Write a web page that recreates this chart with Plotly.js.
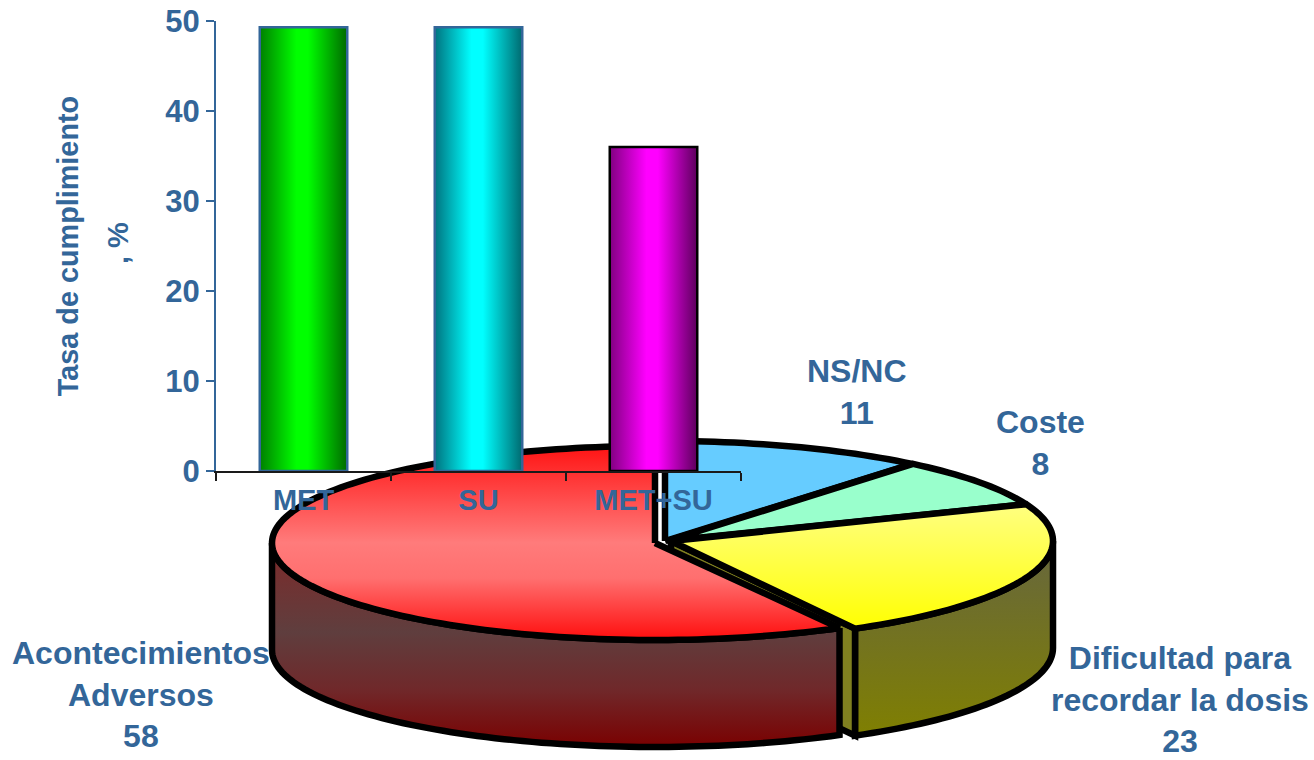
<!DOCTYPE html>
<html lang="es">
<head>
<meta charset="utf-8">
<title>Cumplimiento terapéutico</title>
<script src="https://cdn.plot.ly/plotly-3.0.1.min.js"></script>
<style>
  html, body { margin: 0; padding: 0; background: #ffffff; }
  #chart { width: 1314px; height: 760px; }
</style>
</head>
<body>
<div id="chart"></div>
<script>
// Compliance rate per treatment
const treatments = ['MET', 'SU', 'MET+SU'];
const complianceRates = [49.3, 49.3, 36];
const barOutlines = ['#336699', '#336699', '#000000'];
const barShades = [
  ['#007f00', '#00ff00', '#00ff00', '#006a00'],
  ['#00737f', '#00ffff', '#00ffff', '#006a70'],
  ['#800080', '#ff00ff', '#ff00ff', '#5c005c']
];

// Reasons for non-compliance, clockwise from twelve o'clock
const reasons = ['NS/NC', 'Coste', 'Dificultad para<br>recordar la dosis', 'Acontecimientos<br>Adversos'];
const reasonCounts = [11, 8, 23, 58];

const BLUE = '#336699';
const FONT = '"Liberation Sans", Arial, sans-serif';

// Pie projection: each exploded slice has its own disc centre on a pixel-scaled hidden axis pair
const blueDisc = { cx: 665, cy: 541, rx: 388, ry: 100 };
const greenDisc = { cx: 667, cy: 541, rx: 386, ry: 100 };
const yellowDisc = { cx: 671, cy: 541, rx: 382, ry: 100 };
const redDisc = { cx: 655, cy: 543, rx: 383, ry: 97 };
const DEPTH = 107;
const EDGE = { color: '#000000', width: 6.5 };

const total = reasonCounts.reduce((a, b) => a + b, 0);
const cuts = [0];
reasonCounts.forEach(v => cuts.push(cuts[cuts.length - 1] + v / total * 360));

function rimPoint(d, deg, drop) {
  const r = deg * Math.PI / 180;
  return [d.cx + d.rx * Math.sin(r), d.cy - d.ry * Math.cos(r) + (drop || 0)];
}
function arc(d, from, to, drop) {
  const pts = [];
  const n = Math.max(2, Math.ceil(Math.abs(to - from) / 1.5));
  for (let i = 0; i <= n; i++) pts.push(rimPoint(d, from + (to - from) * i / n, drop));
  return pts;
}
function polygonTrace(pts, fill) {
  const closed = pts.concat([pts[0]]);
  const t = {
    type: 'scatter', mode: 'lines', xaxis: 'x', yaxis: 'y', hoverinfo: 'skip',
    x: closed.map(p => p[0]), y: closed.map(p => p[1]),
    line: Object.assign({ simplify: false }, EDGE), fill: 'toself'
  };
  if (typeof fill === 'string') t.fillcolor = fill; else t.fillgradient = fill;
  return t;
}
const topFace = (d, a, b, fill) => polygonTrace([[d.cx, d.cy]].concat(arc(d, a, b)), fill);
const wall = (d, a, b, fill) => polygonTrace(arc(d, a, b).concat(arc(d, b, a, DEPTH)), fill);
const vertical = (start, stop, colorscale) => ({ type: 'vertical', start, stop, colorscale });

const yellowWall = vertical(540, 740, [[0, '#66663f'], [1, '#808000']]);
const redWall = vertical(555, 748, [[0, '#7a2c2c'], [0.4, '#5f3e3e'], [0.7, '#70282a'], [1, '#7a0000']]);
const redTop = vertical(443, 642, [[0, '#ff1010'], [0.5, '#ff7b7b'], [0.68, '#ff6f6f'], [1, '#ff0a0a']]);
const yellowTop = vertical(505, 630, [[0, '#ffff80'], [1, '#ffff00']]);

const endYellow = rimPoint(yellowDisc, cuts[3]);
const pieTraces = [
  wall(yellowDisc, 90, cuts[3], yellowWall),
  polygonTrace([endYellow, [endYellow[0], endYellow[1] + DEPTH],
    [yellowDisc.cx, yellowDisc.cy + DEPTH], [yellowDisc.cx, yellowDisc.cy]], '#808020'),
  topFace(blueDisc, cuts[0], cuts[1], '#66ccff'),
  topFace(greenDisc, cuts[1], cuts[2], '#99ffcc'),
  topFace(yellowDisc, cuts[2], cuts[3], yellowTop),
  wall(redDisc, cuts[3], 270, redWall),
  topFace(redDisc, cuts[3], cuts[4], redTop)
];

const barTrace = {
  type: 'bar', xaxis: 'x2', yaxis: 'y2', hoverinfo: 'skip',
  x: treatments, y: complianceRates, width: 0.5,
  marker: { color: '#00ff00', line: { color: barOutlines, width: 2.5 } }
};

const labelStyle = { family: FONT, size: 32, color: BLUE };
const labelSpots = [[857, 392], [1040, 443], [1180, 699], [141, 694]];
const annotations = reasons.map((r, i) => ({
  text: '<b>' + r + '<br>' + reasonCounts[i] + '</b>',
  xref: 'x', yref: 'y', x: labelSpots[i][0], y: labelSpots[i][1],
  showarrow: false, align: 'center', xanchor: 'center', yanchor: 'middle', font: labelStyle
}));
annotations.push({
  text: '<b>, %</b>', xref: 'x', yref: 'y', x: 118, y: 243, textangle: -90,
  showarrow: false, xanchor: 'center', yanchor: 'middle',
  font: { family: FONT, size: 29, color: BLUE }
});

const layout = {
  width: 1314, height: 760,
  margin: { l: 0, r: 0, t: 0, b: 0 },
  paper_bgcolor: '#ffffff', plot_bgcolor: 'rgba(0,0,0,0)',
  showlegend: false, hovermode: false, annotations,
  xaxis: { domain: [0, 1], range: [0, 1314], visible: false, fixedrange: true },
  yaxis: { domain: [0, 1], range: [760, 0], visible: false, fixedrange: true },
  xaxis2: {
    domain: [216 / 1314, 741 / 1314], anchor: 'y2', type: 'category',
    tickson: 'boundaries', ticks: 'outside', ticklen: 8, tickwidth: 2, tickcolor: '#1a1a1a',
    showline: true, linecolor: '#1a1a1a', linewidth: 2, showgrid: false, zeroline: false,
    ticklabelstandoff: 2,
    tickfont: { family: FONT, size: 29, color: BLUE, weight: 700 }, fixedrange: true
  },
  yaxis2: {
    domain: [1 - 471 / 760, 1 - 21 / 760], anchor: 'x2', range: [0, 50], dtick: 10,
    ticks: 'outside', ticklen: 8, tickwidth: 2, tickcolor: BLUE,
    showline: true, linecolor: BLUE, linewidth: 2, showgrid: false, zeroline: false,
    tickfont: { family: FONT, size: 31, color: BLUE, weight: 700 }, fixedrange: true,
    title: { text: '<b>Tasa de cumplimiento</b>', standoff: 78, font: { family: FONT, size: 28.8, color: BLUE } }
  }
};

// Cylinder shading on the bars, applied as SVG gradients once the bars exist
function shadeBars() {
  const svg = document.querySelector('#chart .main-svg');
  const NS = 'http://www.w3.org/2000/svg';
  let defs = svg.querySelector('defs');
  document.querySelectorAll('#chart .barlayer .point path').forEach((path, i) => {
    const grad = document.createElementNS(NS, 'linearGradient');
    grad.id = 'barShade' + i;
    [0, 0.42, 0.55, 1].forEach((offset, k) => {
      const stop = document.createElementNS(NS, 'stop');
      stop.setAttribute('offset', offset);
      stop.setAttribute('stop-color', barShades[i][k]);
      grad.appendChild(stop);
    });
    defs.appendChild(grad);
    path.style.fill = 'url(#barShade' + i + ')';
  });
}

Plotly.newPlot('chart', pieTraces.concat([barTrace]), layout, { displayModeBar: false, staticPlot: true })
  .then(shadeBars);
</script>
</body>
</html>
